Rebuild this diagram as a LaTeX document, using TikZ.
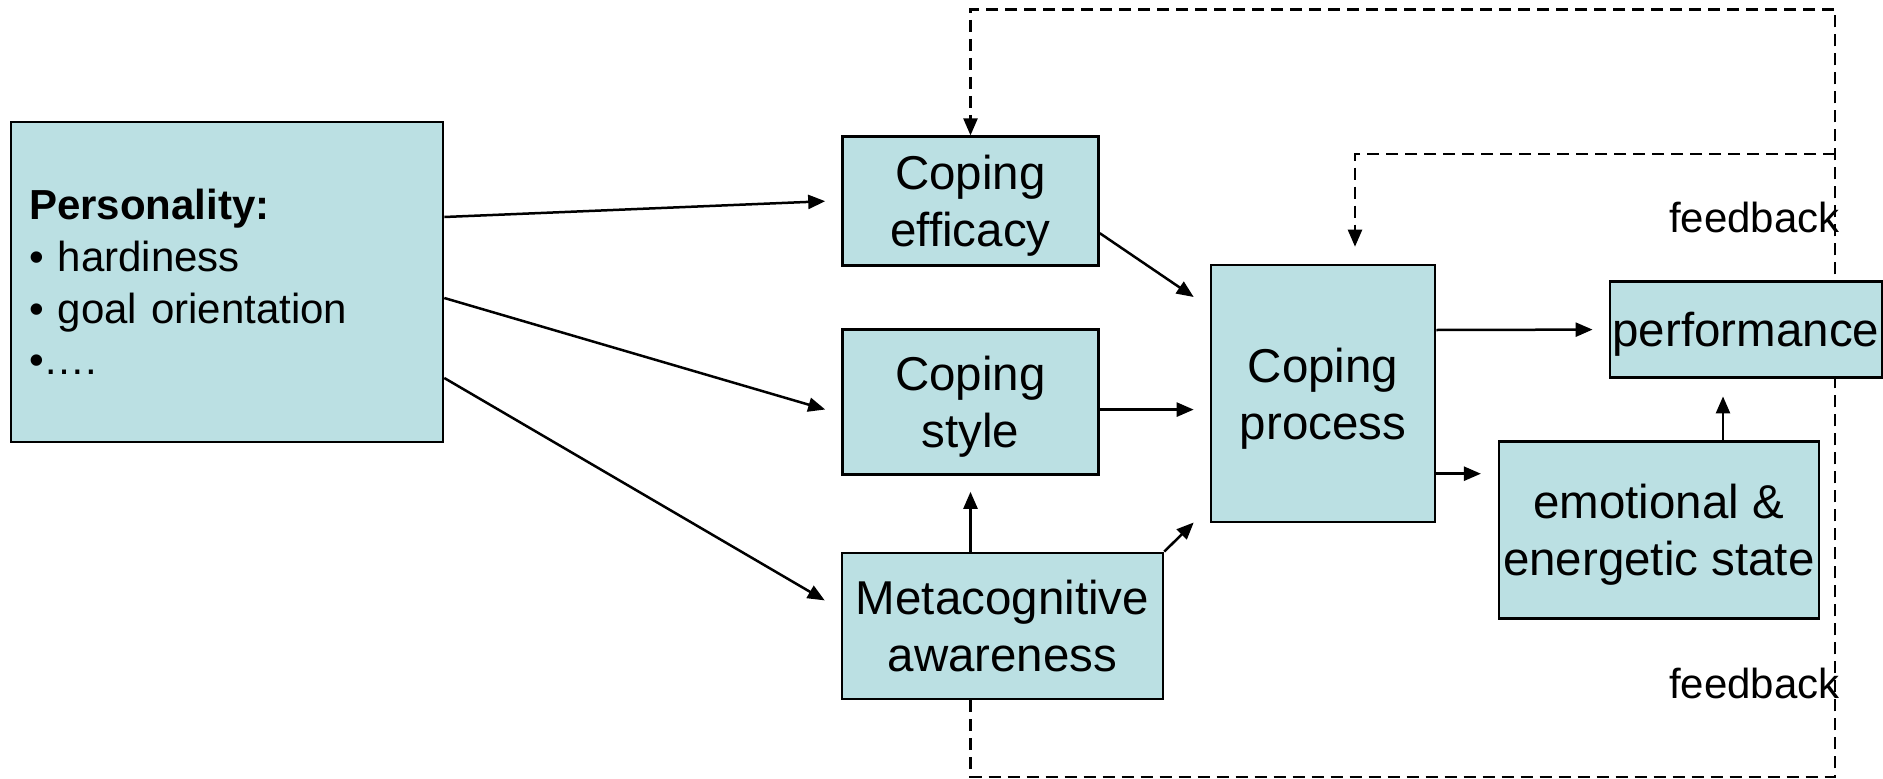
\documentclass[tikz,border=0pt]{standalone}
\usepackage{fontspec}
\setmainfont{Liberation Sans}
\usetikzlibrary{arrows.meta,backgrounds}
\definecolor{boxfill}{HTML}{BBE0E3}
\tikzset{
  blk/.style={draw=black, line width=2.6pt, fill=boxfill, inner sep=0pt,
    align=center, text depth=0pt, font=\fontsize{47.5}{57}\selectfont},
  flow/.style={line width=2.5pt, -{Triangle[length=17pt,width=14pt]}},
  fb/.style={line width=2.4pt, dash pattern=on 12pt off 7pt},
  fbtip/.style={-{Triangle[length=17pt,width=14pt]}},
  fblabel/.style={inner sep=0pt, anchor=base west, font=\fontsize{42}{50}\selectfont}
}
\begin{document}
\begin{tikzpicture}[x=1pt,y=-1pt]
\useasboundingbox (0,0) rectangle (1883,779);

% boxes
\node[blk, align=left, text width=396pt, inner xsep=18pt, minimum height=320pt,
  text depth=155.1pt, font=\fontsize{42}{51.7}\selectfont] (pers) at (227,282)
  {\textbf{Personality:}\\• hardiness\\• goal orientation\\•….};
\node[blk, minimum width=256pt, minimum height=129pt] (eff) at (970.5,201.2) {Coping\\efficacy};
\node[blk, minimum width=256pt, minimum height=145pt] (sty) at (970.5,402) {Coping\\style};
\node[blk, minimum width=321pt, minimum height=146pt] (meta) at (1002.5,625.9) {Metacognitive\\awareness};
\node[blk, minimum width=224pt, minimum height=257pt] (proc) at (1323,393.5) {Coping\\process};
\node[blk, minimum width=272pt, minimum height=96pt] (perf) at (1745.9,329.6) {performance};
\node[blk, minimum width=320pt, minimum height=177pt] (emo) at (1658.8,530) {emotional \&\\energetic state};

% feedback loops (behind the boxes)
\coordinate (fbBL) at (970.5,777);
\coordinate (fbBR) at (1835,777);
\coordinate (fbTR) at (1835,9.3);
\coordinate (fbTL) at (970.5,9.3);
\coordinate (fbMR) at (1835,153.7);
\coordinate (fbML) at (1355,153.7);
\begin{scope}[on background layer]
  \draw[fb, fbtip] ([xshift=-32pt]meta.south) -- (fbBL) -- (fbBR) -- (fbTR) -- (fbTL) -- (eff.north);
  \draw[fb, fbtip] (fbMR) -- (fbML) -- ([xshift=32pt,yshift=17pt]proc.north);
\end{scope}

% personality influences
\draw[flow] ([yshift=65pt]pers.east) -- ([xshift=-16pt]eff.west);
\draw[flow] ([yshift=-16pt]pers.east) -- ([xshift=-16pt,yshift=-7.5pt]sty.west);
\draw[flow] ([yshift=-96pt]pers.east) -- ([xshift=-16pt,yshift=25.5pt]meta.west);

% into the coping process
\draw[flow] ([yshift=-32pt]eff.east) -- ([xshift=-16pt,yshift=96.5pt]proc.west);
\draw[flow] ([yshift=-7.6pt]sty.east) -- ([xshift=-16pt,yshift=-16.1pt]proc.west);
\draw[flow] (meta.north east) -- ([xshift=-16pt,yshift=-129pt]proc.west);
\draw[flow] ([xshift=-32pt]meta.north) -- ([yshift=-16pt]sty.south);

% outcomes
\draw[flow] ([yshift=63.5pt]proc.east) -- ([xshift=-16pt]perf.west);
\draw[flow] ([yshift=-80.2pt]proc.east) -- ([xshift=-16.6pt,yshift=56.3pt]emo.west);
\draw[flow] ([xshift=64.2pt]emo.north) -- ([xshift=-22.9pt,yshift=-17.5pt]perf.south);

% labels
\node[fblabel] (fbtop) at (1669,232) {feedback};
\node[fblabel] (fbbot) at (1669,698) {feedback};
\end{tikzpicture}
\end{document}
